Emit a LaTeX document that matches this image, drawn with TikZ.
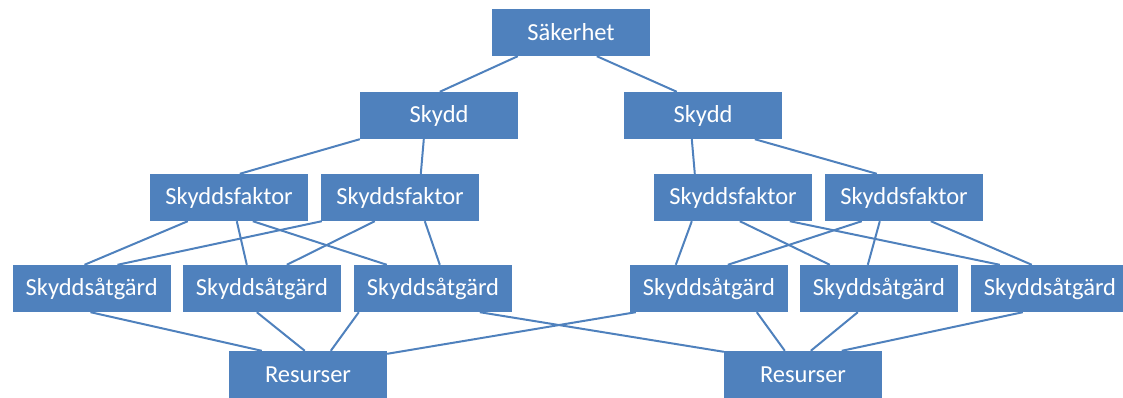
\documentclass[tikz,border=0pt]{standalone}
\usepackage{fontspec}
\setmainfont{Carlito}
\definecolor{boxblue}{HTML}{4F81BD}
\begin{document}
\begin{tikzpicture}[x=1pt,y=-1pt,
  box/.style={fill=boxblue,draw=none,text=white,minimum width=158pt,
    minimum height=47pt,inner sep=0pt,font=\fontsize{24.5}{28}\selectfont},
  link/.style={draw=boxblue,line width=2pt}]
\useasboundingbox (0,0) rectangle (1123,398);
% top level
\node[box] (S)  at (571,32.5)  {Säkerhet};
\node[box] (KL) at (439,115.5) {Skydd};
\node[box] (KR) at (703,115.5) {Skydd};
% factors
\node[box] (F1) at (229,197.5) {Skyddsfaktor};
\node[box] (F2) at (400,197.5) {Skyddsfaktor};
\node[box] (F3) at (733,197.5) {Skyddsfaktor};
\node[box] (F4) at (904,197.5) {Skyddsfaktor};
% measures
\node[box] (A1) at (91.7,288.5) {Skyddsåtgärd};
\node[box] (A2) at (262,288.5)  {Skyddsåtgärd};
\node[box] (A3) at (433,288.5)  {Skyddsåtgärd};
\node[box] (A4) at (709,288.5)  {Skyddsåtgärd};
\node[box] (A5) at (879,288.5)  {Skyddsåtgärd};
\node[box] (A6) at (1050,288.5) {Skyddsåtgärd};
% resources
\node[box] (R1) at (308,374.5) {Resurser};
\node[box] (R2) at (803,374.5) {Resurser};
% connectors
\begin{scope}[link]
\draw ([xshift=26pt]S.south west) -- ([xshift=80pt]KL.north west);
\draw ([xshift=105pt]S.south west) -- ([xshift=53pt]KR.north west);
\draw (KL.south west) -- ([xshift=90pt]F1.north west);
\draw ([xshift=64pt]KL.south west) -- ([xshift=100pt]F2.north west);
\draw ([xshift=68pt]KR.south west) -- ([xshift=41pt]F3.north west);
\draw ([xshift=131pt]KR.south west) -- ([xshift=52pt]F4.north west);
\draw ([xshift=38pt]F1.south west) -- ([xshift=72pt]A1.north west);
\draw ([xshift=87pt]F1.south west) -- ([xshift=64pt]A2.north west);
\draw ([xshift=103pt]F1.south west) -- ([xshift=33pt]A3.north west);
\draw ([xshift=1pt]F2.south west) -- ([xshift=105pt]A1.north west);
\draw ([xshift=54pt]F2.south west) -- ([xshift=104pt]A2.north west);
\draw ([xshift=104pt]F2.south west) -- ([xshift=86pt]A3.north west);
\draw ([xshift=38pt]F3.south west) -- ([xshift=46pt]A4.north west);
\draw ([xshift=86pt]F3.south west) -- ([xshift=30pt]A5.north west);
\draw ([xshift=136pt]F3.south west) -- ([xshift=29pt]A6.north west);
\draw ([xshift=37pt]F4.south west) -- ([xshift=98pt]A4.north west);
\draw ([xshift=55pt]F4.south west) -- ([xshift=68pt]A5.north west);
\draw ([xshift=106pt]F4.south west) -- ([xshift=61pt]A6.north west);
\draw ([xshift=78pt]A1.south west) -- ([xshift=33pt]R1.north west);
\draw ([xshift=74pt]A2.south west) -- ([xshift=76pt]R1.north west);
\draw ([xshift=5pt]A3.south west) -- ([xshift=102pt]R1.north west);
\draw ([xshift=6pt]A4.south west) -- ([yshift=-3pt]R1.north east);
\draw ([xshift=126pt]A3.south west) -- ([yshift=-1pt]R2.north west);
\draw ([xshift=127pt]A4.south west) -- ([xshift=61pt]R2.north west);
\draw ([xshift=58pt]A5.south west) -- ([xshift=87pt]R2.north west);
\draw ([xshift=52pt]A6.south west) -- ([xshift=118pt]R2.north west);
\end{scope}
\end{tikzpicture}
\end{document}
